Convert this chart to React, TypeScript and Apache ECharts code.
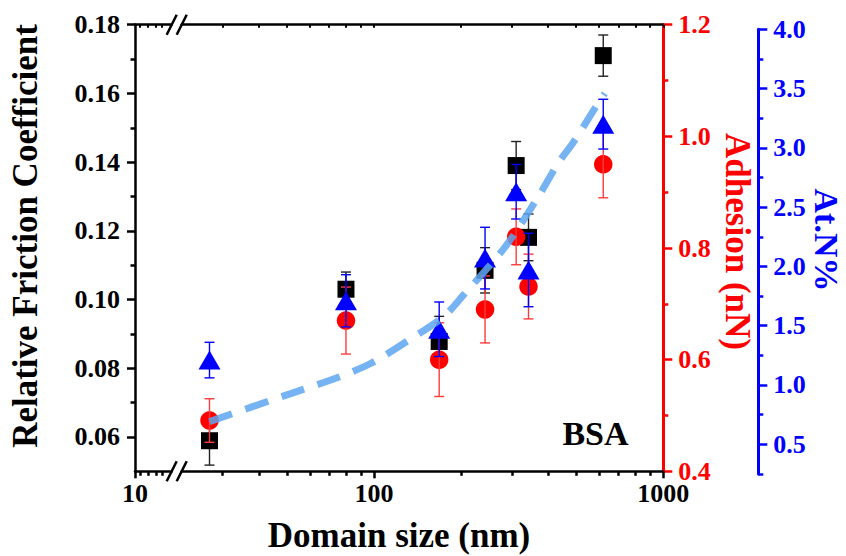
import React, { useEffect, useRef } from 'react';
import * as echarts from 'echarts';

// ---- data ----
const domainSize = [27, 80, 168, 242, 310, 342, 620];
const friction = [0.0589, 0.103, 0.0878, 0.1085, 0.139, 0.1181, 0.171];
const frictionErr = [0.0071, 0.005, 0.0073, 0.0066, 0.007, 0.0068, 0.006];
const adhesion = [0.491, 0.67, 0.6, 0.69, 0.82, 0.731, 0.95];
const adhesionErr = [0.039, 0.06, 0.066, 0.06, 0.05, 0.058, 0.06];
const atN = [1.21, 1.71, 1.47, 2.07, 2.63, 1.97, 3.2];
const atNErr = [0.15, 0.22, 0.23, 0.26, 0.23, 0.31, 0.21];
const fitX = [27, 50, 74, 98, 131, 174, 204, 284, 370, 433, 487, 580, 628];
const fitY = [0.489, 0.537, 0.567, 0.594, 0.634, 0.677, 0.716, 0.802, 0.892, 0.952, 0.988, 1.05, 1.077];

// ---- tick labels ----
const frictionTicks = [0.06, 0.08, 0.1, 0.12, 0.14, 0.16, 0.18];
const frictionMinor = [0.07, 0.09, 0.11, 0.13, 0.15, 0.17];
const atNTicks = [0.5, 1, 1.5, 2, 2.5, 3, 3.5, 4];
const atNMinor = [0.25, 0.75, 1.25, 1.75, 2.25, 2.75, 3.25, 3.75];
const xMajor = [100, 1000];
const xMinor = [30, 40, 50, 60, 70, 80, 90, 200, 300, 400, 500, 600, 700, 800, 900];
const xBrokenMajor = [10];
const xBrokenMinor = [11.3, 13.5, 15.7, 17.4];

const FONT = "'Liberation Serif', 'Times New Roman', serif";
const X_MIN = 21.64;
const X_MAX = 1000;

function errorBars(color: string) {
  return (params: any, api: any) => {
    const x = api.value(0);
    const y = api.value(1);
    const e = api.value(2);
    const top = api.coord([x, y + e]);
    const bot = api.coord([x, y - e]);
    const hw = 5;
    const style = { stroke: color, lineWidth: 1.4 };
    return {
      type: 'group',
      children: [
        { type: 'line', shape: { x1: top[0], y1: top[1], x2: bot[0], y2: bot[1] }, style },
        { type: 'line', shape: { x1: top[0] - hw, y1: top[1], x2: top[0] + hw, y2: top[1] }, style },
        { type: 'line', shape: { x1: bot[0] - hw, y1: bot[1], x2: bot[0] + hw, y2: bot[1] }, style },
      ],
    };
  };
}

function labelStyle(color: string) {
  return { color, fontSize: 26, fontWeight: 'bold' as const, fontFamily: FONT };
}

function titleStyle(text: string, fill: string, size: number) {
  return {
    text, fill, fontSize: size, fontWeight: 'bold', fontFamily: FONT,
    align: 'center', verticalAlign: 'middle', textAlign: 'center', textVerticalAlign: 'middle',
  };
}

export default function App() {
  const ref = useRef<HTMLDivElement>(null);
  useEffect(() => {
    if (!ref.current) return;
    const chart = echarts.init(ref.current, null, { renderer: 'svg' });
    const black = '#000';
    const red = '#ff0000';
    const blue = '#0000ff';
    const option: any = {
      animation: false,
      backgroundColor: '#fff',
      grid: [
        { left: 181.7, right: 182.7, top: 24.7, bottom: 84.7 },
        { left: 135, width: 36.7, top: 24.7, bottom: 84.7 },
        { left: 181.7, right: 182.7, top: 29.3, bottom: 82.1 },
      ],
      xAxis: [
        {
          gridIndex: 0, type: 'log', min: X_MIN, max: X_MAX, position: 'bottom',
          axisLine: { show: true, lineStyle: { color: black, width: 2.5 } },
          axisTick: { show: true, customValues: xMajor, length: 7, lineStyle: { color: black, width: 2.5 } },
          axisLabel: { show: true, customValues: xMajor, margin: 9, formatter: (v: number) => String(Math.round(v)), ...labelStyle(black) },
          splitLine: { show: false }, minorTick: { show: false }, minorSplitLine: { show: false },
        },
        {
          gridIndex: 0, type: 'log', min: X_MIN, max: X_MAX, position: 'bottom',
          axisLine: { show: false },
          axisTick: { show: true, customValues: xMinor, length: 4.5, lineStyle: { color: black, width: 2.5 } },
          axisLabel: { show: false }, splitLine: { show: false },
        },
        {
          gridIndex: 0, type: 'log', min: X_MIN, max: X_MAX, position: 'top',
          axisLine: { show: true, lineStyle: { color: black, width: 2.5 } },
          axisTick: { show: true, inside: true, customValues: [...xMinor, ...xMajor], length: 3, lineStyle: { color: black, width: 2 } },
          axisLabel: { show: false }, splitLine: { show: false },
        },
        {
          gridIndex: 1, type: 'value', min: 10, max: 20, position: 'bottom',
          axisLine: { show: true, lineStyle: { color: black, width: 2.5 } },
          axisTick: { show: true, customValues: xBrokenMajor, length: 7, lineStyle: { color: black, width: 2.5 } },
          axisLabel: { show: true, customValues: xBrokenMajor, margin: 9, formatter: (v: number) => String(v), ...labelStyle(black) },
          splitLine: { show: false },
        },
        {
          gridIndex: 1, type: 'value', min: 10, max: 20, position: 'bottom',
          axisLine: { show: false },
          axisTick: { show: true, customValues: xBrokenMinor, length: 4.5, lineStyle: { color: black, width: 2.5 } },
          axisLabel: { show: false }, splitLine: { show: false },
        },
        {
          gridIndex: 1, type: 'value', min: 10, max: 20, position: 'top',
          axisLine: { show: true, lineStyle: { color: black, width: 2.5 } },
          axisTick: { show: true, inside: true, customValues: xBrokenMinor, length: 3, lineStyle: { color: black, width: 2 } },
          axisLabel: { show: false }, splitLine: { show: false },
        },
        {
          gridIndex: 2, type: 'log', min: X_MIN, max: X_MAX, show: false,
        },
      ],
      yAxis: [
        {
          gridIndex: 0, type: 'value', min: 0.05, max: 0.18, position: 'left', offset: 46.7,
          axisLine: { show: true, lineStyle: { color: black, width: 2.5 } },
          axisTick: { show: true, customValues: frictionTicks, length: 8, lineStyle: { color: black, width: 2.5 } },
          axisLabel: { show: true, customValues: frictionTicks, margin: 15, formatter: (v: number) => v.toFixed(2), ...labelStyle(black) },
          splitLine: { show: false },
        },
        {
          gridIndex: 0, type: 'value', min: 0.05, max: 0.18, position: 'left', offset: 46.7,
          axisLine: { show: false },
          axisTick: { show: true, customValues: frictionMinor, length: 4.5, lineStyle: { color: black, width: 2.5 } },
          axisLabel: { show: false }, splitLine: { show: false },
        },
        {
          gridIndex: 0, type: 'value', min: 0.4, max: 1.2, interval: 0.2, position: 'right',
          axisLine: { show: true, lineStyle: { color: red, width: 3 } },
          axisTick: { show: true, length: 9, lineStyle: { color: red, width: 2.5 } },
          minorTick: { show: true, splitNumber: 2, length: 5, lineStyle: { color: red, width: 2.5 } },
          axisLabel: { show: true, margin: 15, formatter: (v: number) => v.toFixed(1), ...labelStyle(red) },
          splitLine: { show: false }, minorSplitLine: { show: false },
        },
        {
          gridIndex: 1, type: 'value', min: 0, max: 1, show: false,
        },
        {
          gridIndex: 2, type: 'value', min: 0.25, max: 4, position: 'right', offset: 95,
          axisLine: { show: true, lineStyle: { color: blue, width: 3 } },
          axisTick: { show: true, customValues: atNTicks, length: 9, lineStyle: { color: blue, width: 2.5 } },
          axisLabel: { show: true, customValues: atNTicks, margin: 15, formatter: (v: number) => v.toFixed(1), ...labelStyle(blue) },
          splitLine: { show: false },
        },
        {
          gridIndex: 2, type: 'value', min: 0.25, max: 4, position: 'right', offset: 95,
          axisLine: { show: false },
          axisTick: { show: true, customValues: atNMinor, length: 5, lineStyle: { color: blue, width: 2.5 } },
          axisLabel: { show: false }, splitLine: { show: false },
        },
      ],
      series: [
        {
          type: 'custom', name: 'friction-err', xAxisIndex: 0, yAxisIndex: 0, z: 2,
          renderItem: errorBars('#222'),
          data: domainSize.map((x, i) => [x, friction[i], frictionErr[i]]),
          encode: { x: 0, y: 1 },
        },
        {
          type: 'scatter', name: 'Relative Friction Coefficient', xAxisIndex: 0, yAxisIndex: 0, z: 3,
          symbol: 'rect', symbolSize: 17, itemStyle: { color: black, opacity: 1 },
          data: domainSize.map((x, i) => [x, friction[i]]),
        },
        {
          type: 'scatter', name: 'Adhesion (nN)', xAxisIndex: 0, yAxisIndex: 2, z: 4,
          symbol: 'circle', symbolSize: 18.5, itemStyle: { color: red, opacity: 1 },
          data: domainSize.map((x, i) => [x, adhesion[i]]),
        },
        {
          type: 'custom', name: 'adhesion-err', xAxisIndex: 0, yAxisIndex: 2, z: 5,
          renderItem: errorBars('#ff3b3b'),
          data: domainSize.map((x, i) => [x, adhesion[i], adhesionErr[i]]),
          encode: { x: 0, y: 1 },
        },
        {
          type: 'scatter', name: 'At.N%', xAxisIndex: 6, yAxisIndex: 4, z: 6,
          symbol: 'triangle', symbolSize: [22, 19], itemStyle: { color: blue, opacity: 1 },
          data: domainSize.map((x, i) => [x, atN[i]]),
        },
        {
          type: 'custom', name: 'atN-err', xAxisIndex: 6, yAxisIndex: 4, z: 7,
          renderItem: errorBars(blue),
          data: domainSize.map((x, i) => [x, atN[i], atNErr[i]]),
          encode: { x: 0, y: 1 },
        },
        {
          type: 'line', name: 'fit', xAxisIndex: 0, yAxisIndex: 2, z: 8,
          smooth: 0.3, showSymbol: false, symbol: 'none',
          lineStyle: { color: '#5ea6f0', width: 7, type: [24, 14], opacity: 0.85, cap: 'butt' },
          data: fitX.map((x, i) => [x, fitY[i]]),
        },
      ],
      graphic: [
        { type: 'line', shape: { x1: 166.7, y1: 481.3, x2: 176.7, y2: 461.3 }, style: { stroke: black, lineWidth: 2.5 } },
        { type: 'line', shape: { x1: 176.7, y1: 481.3, x2: 186.7, y2: 461.3 }, style: { stroke: black, lineWidth: 2.5 } },
        { type: 'line', shape: { x1: 166.7, y1: 34.7, x2: 176.7, y2: 14.7 }, style: { stroke: black, lineWidth: 2.5 } },
        { type: 'line', shape: { x1: 176.7, y1: 34.7, x2: 186.7, y2: 14.7 }, style: { stroke: black, lineWidth: 2.5 } },
        { type: 'text', x: 25, y: 236, rotation: Math.PI / 2, style: titleStyle('Relative Friction Coefficient', black, 35) },
        { type: 'text', x: 399, y: 535, style: titleStyle('Domain size (nm)', black, 35) },
        { type: 'text', x: 737, y: 241.5, rotation: -Math.PI / 2, style: titleStyle('Adhesion (nN)', red, 35) },
        { type: 'text', x: 826, y: 240, rotation: -Math.PI / 2, style: titleStyle('At.N%', blue, 34) },
        { type: 'text', x: 595.5, y: 433.5, style: titleStyle('BSA', black, 34) },
      ],
    };
    chart.setOption(option);
    return () => chart.dispose();
  }, []);
  return (
    <div
      ref={ref}
      style={{ position: 'fixed', left: 0, top: 0, width: 846, height: 556, background: '#fff' }}
    />
  );
}
